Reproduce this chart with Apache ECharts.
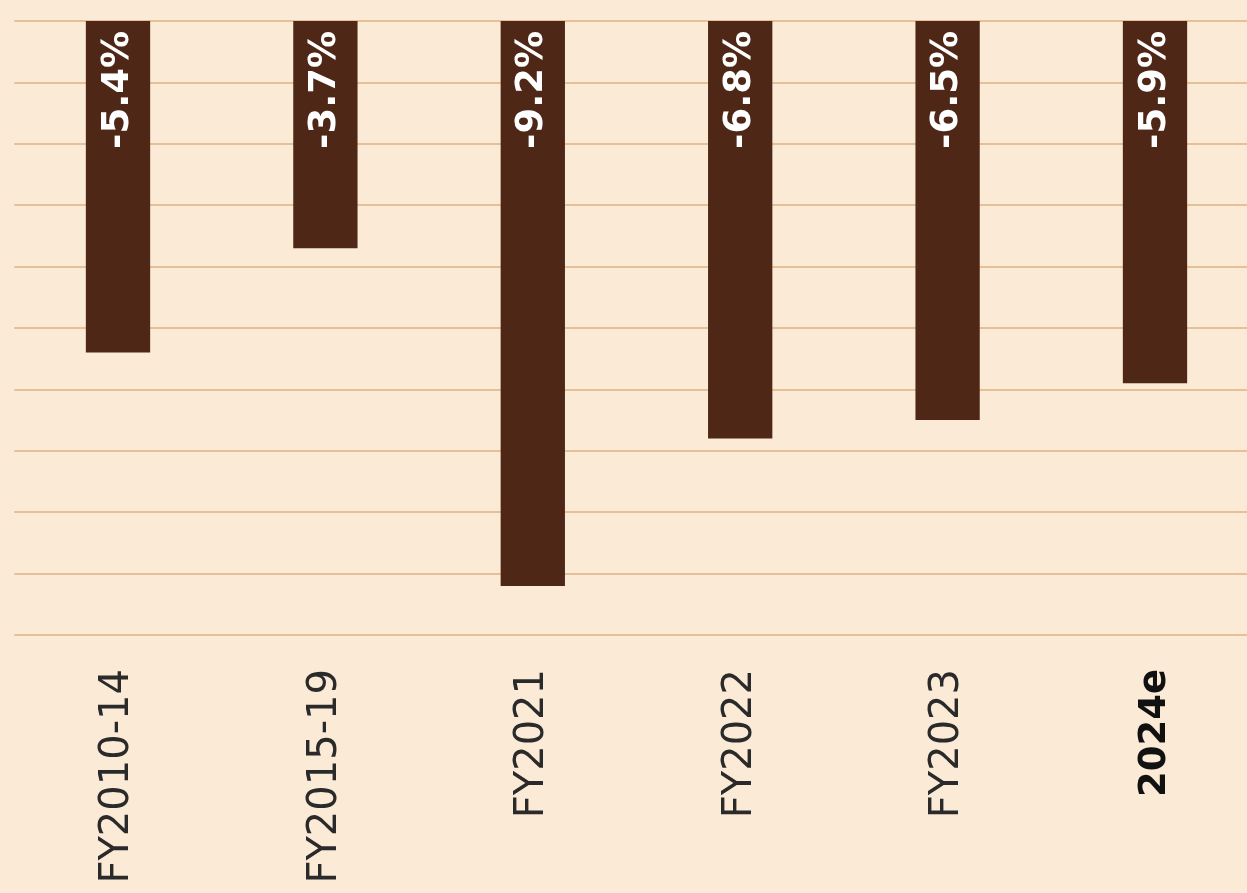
<!DOCTYPE html>
<html>
<head>
<meta charset="utf-8">
<script src="https://cdn.jsdelivr.net/npm/echarts@6/dist/echarts.min.js"></script>
<style>
  html, body { margin: 0; padding: 0; background: #FBEAD6; }
  #chart { width: 1247px; height: 893px; }
</style>
</head>
<body>
<div id="chart"></div>
<script>
const categories = ['FY2010-14', 'FY2015-19', 'FY2021', 'FY2022', 'FY2023', '2024e'];
const values = [-5.4, -3.7, -9.2, -6.8, -6.5, -5.9];
const boldCategories = ['2024e'];

const chart = echarts.init(document.getElementById('chart'), null, { renderer: 'canvas' });
chart.setOption({
  backgroundColor: '#FBEAD6',
  animation: false,
  grid: {
    left: 14.3,
    right: -11.7,
    top: 21,
    bottom: 258,
    containLabel: false,
    outerBoundsMode: 'none'
  },
  xAxis: {
    type: 'category',
    data: categories,
    axisLine: { show: false },
    axisTick: { show: false },
    splitLine: { show: false },
    axisLabel: {
      rotate: 90,
      margin: 34,
      interval: 0,
      fontFamily: 'DejaVu Sans',
      fontSize: 40,
      color: '#2a2a2a',
      formatter: function (v) {
        return boldCategories.indexOf(v) >= 0 ? '{b|' + v + '}' : v;
      },
      rich: {
        b: { fontFamily: 'DejaVu Sans', fontSize: 37, fontWeight: 'bold', color: '#111' }
      }
    }
  },
  yAxis: {
    type: 'value',
    min: -10,
    max: 0,
    interval: 1,
    axisLine: { show: false },
    axisTick: { show: false },
    axisLabel: { show: false },
    splitLine: { show: true, lineStyle: { color: '#DFB285', width: 1.5 } }
  },
  series: [{
    type: 'bar',
    data: values,
    barWidth: '31%',
    itemStyle: { color: '#4E2716' },
    label: {
      show: true,
      position: 'insideTop',
      distance: 13,
      rotate: 90,
      align: 'right',
      verticalAlign: 'middle',
      offset: [3, 0],
      fontFamily: 'DejaVu Sans',
      fontWeight: 'bold',
      fontSize: 37,
      color: '#ffffff',
      formatter: function (p) { return p.value.toFixed(1) + '%'; }
    }
  }]
});
</script>
</body>
</html>
